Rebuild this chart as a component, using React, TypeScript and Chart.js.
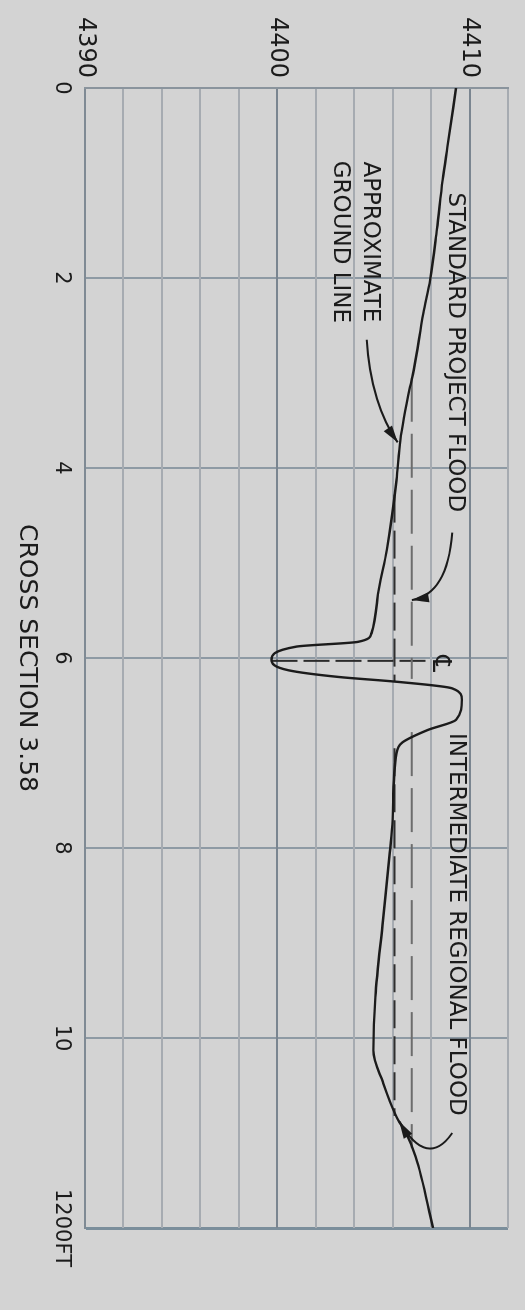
import React, { useEffect, useRef } from 'react';
import { Chart, registerables } from 'chart.js';

Chart.register(...registerables);

// ---- axis ticks ----
const distanceTicks = [0, 200, 400, 600, 800, 1000, 1200];
const distanceTickLabels = ['0', '2', '4', '6', '8', '10', '1200FT'];
const elevationLabelled = [4390, 4400, 4410];

// ---- approximate ground line (distance ft, elevation ft) ----
const groundDistance = [0, 62, 97, 149, 202, 237, 297, 315, 371, 413, 486, 539, 574, 583, 588, 602, 613, 620, 625, 632, 644, 665, 676, 689, 700, 771, 805, 876, 957, 1013, 1047, 1083, 1100, 1125, 1200];
const groundElevation = [4409.3, 4408.85, 4408.6, 4408.3, 4407.95, 4407.6, 4407.1, 4406.9, 4406.4, 4406.2, 4405.7, 4405.2, 4404.9, 4404.2, 4401.0, 4399.7, 4400.6, 4403.2, 4406.2, 4409.1, 4409.6, 4409.3, 4407.8, 4406.5, 4406.2, 4406.0, 4405.85, 4405.5, 4405.1, 4405.0, 4405.5, 4406.2, 4406.7, 4407.2, 4408.1];

// ---- water surfaces ----
const spfElevation = 4407.0;
const spfStart = [305, 678];
const spfEnd = [622, 1116];
const irfElevation = 4406.1;
const irfStart = [428, 695];
const irfEnd = [625, 1082];

// ---- channel centre line ----
const centerDistance = 603;
const centerElevation = [4399.7, 4407.8];

// ---- labels ----
const noteTexts = ['STANDARD PROJECT FLOOD', 'INTERMEDIATE REGIONAL FLOOD', 'APPROXIMATE', 'GROUND LINE', '\u2104'];
const noteDistance = [110, 679, 162, 162, 606];
const noteElevation = [4409.22, 4409.3, 4404.8, 4403.25, 4408.45];

// ---- leader curves: start, control, end (distance / elevation) ----
const leaderStartD = [468, 265, 1100];
const leaderStartE = [4409.1, 4404.65, 4409.1];
const leaderCtrlD = [533, 333, 1138];
const leaderCtrlE = [4408.85, 4404.88, 4407.8];
const leaderEndD = [539, 373, 1088];
const leaderEndE = [4407.0, 4406.26, 4406.35];

const FONT = '"DejaVu Sans", "Liberation Sans", sans-serif';
const INK = '#1b1b1b';

function segments(start: number[], end: number[], elev: number) {
  const pts: { x: number; y: number | null }[] = [];
  start.forEach((s, i) => {
    if (i > 0) pts.push({ x: (end[i - 1] + s) / 2, y: null });
    pts.push({ x: s, y: elev });
    pts.push({ x: end[i], y: elev });
  });
  return pts;
}

const notesPlugin = {
  id: 'notes',
  afterDatasetsDraw(chart: any) {
    const { ctx } = chart;
    const xs = chart.scales.x;
    const ys = chart.scales.y;
    ctx.save();
    ctx.fillStyle = INK;
    ctx.strokeStyle = INK;
    ctx.textBaseline = 'middle';
    noteTexts.forEach((t, i) => {
      const symbol = i === 4;
      ctx.font = symbol ? `26px ${FONT}` : `23px ${FONT}`;
      ctx.textAlign = i === 0 || i === 1 ? 'left' : 'center';
      ctx.fillText(t, xs.getPixelForValue(noteDistance[i]), ys.getPixelForValue(noteElevation[i]));
    });
    ctx.lineWidth = 2;
    leaderStartD.forEach((_, i) => {
      const sx = xs.getPixelForValue(leaderStartD[i]);
      const sy = ys.getPixelForValue(leaderStartE[i]);
      const cx = xs.getPixelForValue(leaderCtrlD[i]);
      const cy = ys.getPixelForValue(leaderCtrlE[i]);
      const ex = xs.getPixelForValue(leaderEndD[i]);
      const ey = ys.getPixelForValue(leaderEndE[i]);
      ctx.beginPath();
      ctx.moveTo(sx, sy);
      ctx.quadraticCurveTo(cx, cy, ex, ey);
      ctx.stroke();
      const a = Math.atan2(ey - cy, ex - cx);
      const L = 17;
      const W = 5;
      ctx.beginPath();
      ctx.moveTo(ex, ey);
      ctx.lineTo(ex - L * Math.cos(a) + W * Math.sin(a), ey - L * Math.sin(a) - W * Math.cos(a));
      ctx.lineTo(ex - L * Math.cos(a) - W * Math.sin(a), ey - L * Math.sin(a) + W * Math.cos(a));
      ctx.closePath();
      ctx.fill();
    });
    ctx.restore();
  },
};

function zeroPadding(s: any) {
  s.paddingTop = 0;
  s.paddingBottom = 0;
  s.paddingLeft = 0;
  s.paddingRight = 0;
}

export default function App() {
  const ref = useRef<HTMLCanvasElement | null>(null);

  useEffect(() => {
    if (!ref.current) return;
    const chart = new Chart(ref.current, {
      type: 'line',
      data: {
        datasets: [
          {
            label: 'Ground',
            data: groundDistance.map((d, i) => ({ x: d, y: groundElevation[i] })),
            borderColor: INK,
            borderWidth: 2.4,
            pointRadius: 0,
            cubicInterpolationMode: 'monotone',
            fill: false,
          },
          {
            label: 'Standard Project Flood',
            data: segments(spfStart, spfEnd, spfElevation),
            borderColor: '#6d6d6d',
            borderWidth: 2,
            borderDash: [44, 12],
            pointRadius: 0,
            spanGaps: false,
          },
          {
            label: 'Intermediate Regional Flood',
            data: segments(irfStart, irfEnd, irfElevation),
            borderColor: '#2f2f2f',
            borderWidth: 2,
            borderDash: [28, 8],
            pointRadius: 0,
            spanGaps: false,
          },
          {
            label: 'Centre line',
            data: centerElevation.map((e) => ({ x: centerDistance, y: e })),
            borderColor: '#2a2a2a',
            borderWidth: 2,
            borderDash: [26, 6],
            pointRadius: 0,
          },
        ],
      } as any,
      options: {
        responsive: false,
        animation: false,
        layout: { padding: { top: 17, right: 82, left: 0, bottom: 0 } },
        plugins: { legend: { display: false }, tooltip: { enabled: false } },
        scales: {
          x: {
            type: 'linear',
            min: 0,
            max: 1200,
            afterBuildTicks: (s: any) => {
              s.ticks = distanceTicks.map((v) => ({ value: v }));
            },
            afterFit: (s: any) => {
              s.height = 85;
              zeroPadding(s);
            },
            ticks: {
              autoSkip: false,
              maxRotation: 0,
              padding: 11,
              color: INK,
              font: { family: FONT, size: 21 },
              callback: (v: any) => {
                const i = distanceTicks.indexOf(Number(v));
                return i >= 0 ? distanceTickLabels[i] : '';
              },
            },
            grid: {
              drawTicks: false,
              color: (c: any) => (c.tick && c.tick.value === 1200 ? '#7b8e9b' : '#8e9aa4'),
              lineWidth: (c: any) => (c.tick && c.tick.value === 1200 ? 3 : 2),
            },
            border: { color: '#7f8a94', width: 2 },
            title: {
              display: true,
              text: 'CROSS SECTION 3.58',
              color: INK,
              font: { family: FONT, size: 25 },
              padding: { top: 0, bottom: 12 },
            },
          },
          y: {
            type: 'linear',
            min: 4390,
            max: 4412,
            afterBuildTicks: (s: any) => {
              const t: any[] = [];
              for (let v = 4390; v <= 4412; v += 2) t.push({ value: v });
              s.ticks = t;
            },
            afterFit: (s: any) => {
              s.width = 88;
              zeroPadding(s);
            },
            ticks: {
              autoSkip: false,
              padding: 10,
              color: INK,
              font: { family: FONT, size: 24 },
              callback: (v: any) => (elevationLabelled.includes(Number(v)) ? String(v) : ''),
            },
            grid: {
              drawTicks: false,
              color: (c: any) => (c.tick && (c.tick.value === 4400 || c.tick.value === 4410) ? '#7a8590' : '#a6abb1'),
              lineWidth: 2,
            },
            border: { color: '#8a949d', width: 2 },
          },
        },
      } as any,
      plugins: [notesPlugin],
    });
    return () => chart.destroy();
  }, []);

  return (
    <div
      style={{
        position: 'absolute',
        left: 0,
        top: 0,
        width: 525,
        height: 1310,
        overflow: 'hidden',
        background: '#d3d3d3',
      }}
    >
      <div
        style={{
          position: 'absolute',
          left: 0,
          top: 0,
          width: 1310,
          height: 525,
          transform: 'translate(525px, 0px) rotate(90deg)',
          transformOrigin: '0 0',
        }}
      >
        <canvas ref={ref} width={1310} height={525} style={{ display: 'block' }} />
      </div>
    </div>
  );
}
